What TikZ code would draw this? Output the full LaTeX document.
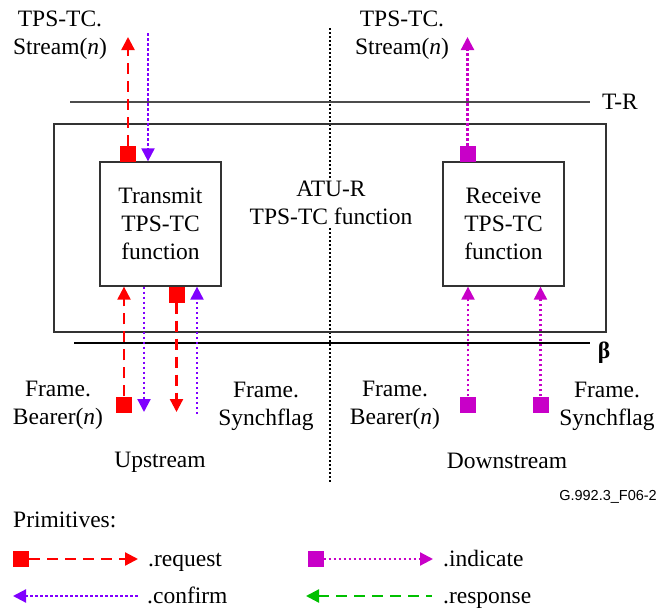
\documentclass[tikz,border=0pt]{standalone}
\usepackage{fontspec}
\setmainfont{Liberation Serif}
\newfontfamily\sansf{Liberation Sans}
\usetikzlibrary{arrows.meta}
\definecolor{req}{HTML}{FF0000}
\definecolor{cnf}{HTML}{8000FF}
\definecolor{ind}{HTML}{C800C8}
\definecolor{rsp}{HTML}{00C000}
\definecolor{frame}{HTML}{333333}
\newcommand\bigfs{\fontsize{23.5}{28}\selectfont}
\tikzset{
  lbl/.style={align=center,font=\bigfs,inner sep=0pt},
  fnbox/.style={draw=frame,line width=1.3pt,minimum width=121pt,minimum height=124pt,inner sep=0pt,align=center,font=\bigfs},
  sq/.style={minimum size=16pt,inner sep=0pt,fill=#1},
  tip/.style={-{Triangle[width=13pt,length=13pt]}},
  tipback/.style={{Triangle[width=13pt,length=13pt]}-},
  reqline/.style={draw=req,line width=2.3pt,dash pattern=on 11pt off 7pt},
  rspline/.style={draw=rsp,line width=2.3pt,dash pattern=on 11pt off 7pt},
  cnfline/.style={draw=cnf,line width=2.2pt,dash pattern=on 2.5pt off 2.5pt},
  indline/.style={draw=ind,line width=2.2pt,dash pattern=on 2.5pt off 2.5pt},
  refline/.style={draw=frame,line width=1.3pt},
}
\begin{document}
\begin{tikzpicture}[x=1pt,y=-1pt]
\useasboundingbox[fill=white] (0,0) rectangle (659,608);
% dotted divider
\coordinate (divtop) at (330,28);
\coordinate (divbot) at (330,483);
\draw[black,line width=1.3pt,dash pattern=on 2pt off 2pt] (divtop) -- (divbot);
% reference lines
\coordinate (trL) at (70,102);
\coordinate (trR) at (590,102);
\draw[refline,draw=black!70] (trL) -- (trR);
\node[lbl] (tr) at (620,102) {T-R};
\coordinate (bL) at (74,343);
\coordinate (bR) at (590,343);
\draw[refline,draw=black] (bL) -- (bR);
\node[lbl] (beta) at (604,353) {\textbf{β}};
% outer box
\node[draw=frame,line width=1.3pt,minimum width=552pt,minimum height=208pt,inner sep=0pt] (atu) at (330,228) {};
\node[lbl,fill=white,inner sep=2pt] (atutext) at (331,203) {ATU-R\\TPS-TC function};
% function boxes
\node[fnbox] (tx) at (160.5,224) {Transmit\\TPS-TC\\function};
\node[fnbox] (rx) at (503.5,224) {Receive\\TPS-TC\\function};
% top labels
\node[lbl] (stL) at (60,35) {TPS-TC.\\Stream(\textit{n})};
\node[lbl] (stR) at (402,35) {TPS-TC.\\Stream(\textit{n})};
% bottom labels
\node[lbl] (fbL) at (58,405) {Frame.\\Bearer(\textit{n})};
\node[lbl] (fsL) at (266,406) {Frame.\\Synchflag};
\node[lbl] (fbR) at (395,405) {Frame.\\Bearer(\textit{n})};
\node[lbl] (fsR) at (607,406) {Frame.\\Synchflag};
\node[lbl] (up) at (160,462) {Upstream};
\node[lbl] (down) at (507,461) {Downstream};
\node[anchor=base east,inner sep=0pt,font=\sansf\fontsize{14.5}{17}\selectfont] (fig) at (657,500) {G.992.3\_F06-2};
% top arrows (TPS-TC side)
\node[sq=req] (s1) at (128,154) {};
\coordinate (s1t) at (128,37);
\draw[reqline,tip] (s1.north) -- (s1t);
\coordinate (c1s) at (148,33);
\draw[cnfline,tip] (c1s) -- (c1s |- tx.north);
\node[sq=ind] (s2) at (467.5,154) {};
\coordinate (s2t) at (467.5,37);
\draw[indline,tip] (s2.north) -- (s2t);
% bottom arrows upstream
\node[sq=req] (s3) at (124,404.5) {};
\draw[reqline,tip] (s3.north) -- (s3 |- tx.south);
\coordinate (c2e) at (144,412);
\draw[cnfline,tip] (c2e |- tx.south) -- (c2e);
\node[sq=req] (s4) at (176.5,294.5) {};
\coordinate (s4t) at (176.5,412);
\draw[reqline,tip] (s4.south) -- (s4t);
\coordinate (c3s) at (197,414);
\draw[cnfline,tip] (c3s) -- (c3s |- tx.south);
% bottom arrows downstream
\node[sq=ind] (s5) at (468,404.5) {};
\draw[indline,tip] (s5.north) -- (s5 |- rx.south);
\node[sq=ind] (s6) at (540.5,404.5) {};
\draw[indline,tip] (s6.north) -- (s6 |- rx.south);
% legend
\node[anchor=base west,lbl] (prim) at (13,527) {Primitives:};
\node[sq=req] (l1) at (21,559) {};
\coordinate (l1t) at (138,559);
\draw[reqline,tip] (l1.east) -- (l1t);
\node[anchor=base west,lbl] (t1) at (148,566) {.request};
\node[sq=ind] (l2) at (315.5,559) {};
\coordinate (l2t) at (433,559);
\draw[indline,tip] (l2.east) -- (l2t);
\node[anchor=base west,lbl] (t2) at (443,566) {.indicate};
\coordinate (l3a) at (13,596);
\coordinate (l3b) at (140,596);
\draw[cnfline,tipback] (l3a) -- (l3b);
\node[anchor=base west,lbl] (t3) at (147,603) {.confirm};
\coordinate (l4a) at (306,596);
\coordinate (l4b) at (432,596);
\draw[rspline,tipback] (l4a) -- (l4b);
\node[anchor=base west,lbl] (t4) at (443,603) {.response};
\end{tikzpicture}
\end{document}
